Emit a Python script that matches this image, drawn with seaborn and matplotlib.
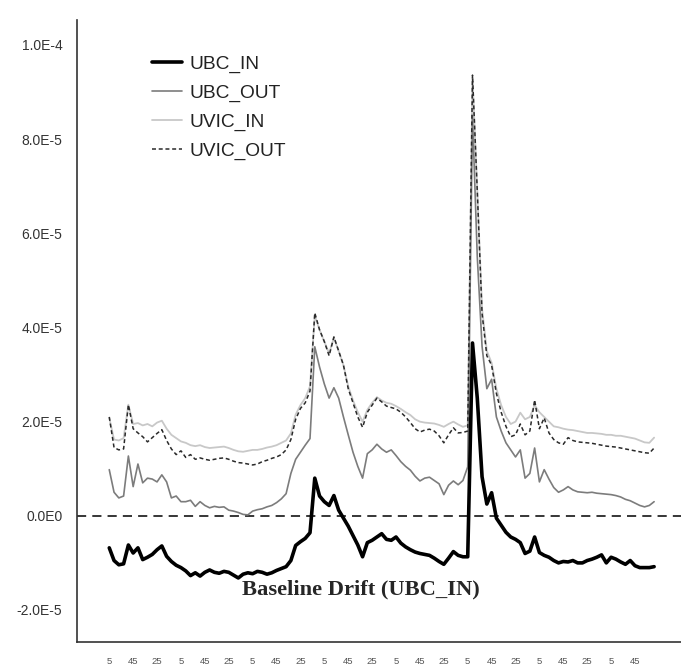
import matplotlib
matplotlib.use("Agg")
import matplotlib.pyplot as plt
import numpy as np
import pandas as pd
import seaborn as sns

# ---------------- data (values in units of 1E-5) ----------------
SCALE = 1e-5
TIME_MIN = list(range(0, 913, 8))  # sample times in minutes (115 samples)

UBC_IN = [-0.68, -0.95, -1.04, -1.02, -0.62, -0.79, -0.68, -0.93, -0.88, -0.82,
          -0.72, -0.64, -0.86, -0.97, -1.05, -1.10, -1.17, -1.27, -1.21, -1.28,
          -1.20, -1.15, -1.20, -1.22, -1.18, -1.20, -1.26, -1.32, -1.24, -1.21,
          -1.23, -1.18, -1.20, -1.24, -1.21, -1.16, -1.12, -1.08, -0.95, -0.63,
          -0.55, -0.48, -0.36, 0.80, 0.42, 0.30, 0.22, 0.43, 0.12, -0.05,
          -0.22, -0.42, -0.62, -0.87, -0.57, -0.52, -0.45, -0.38, -0.50, -0.52,
          -0.45, -0.58, -0.66, -0.72, -0.77, -0.80, -0.82, -0.84, -0.90, -0.97,
          -1.03, -0.90, -0.76, -0.84, -0.87, -0.87, 3.67, 2.50, 0.83, 0.25,
          0.49, -0.05, -0.20, -0.35, -0.45, -0.50, -0.57, -0.80, -0.75, -0.45,
          -0.78, -0.84, -0.88, -0.95, -1.00, -0.97, -0.98, -0.95, -1.00, -1.00,
          -0.95, -0.92, -0.88, -0.83, -1.00, -0.88, -0.92, -0.98, -1.03, -0.95,
          -1.06, -1.10, -1.10, -1.10, -1.08]

UBC_OUT = [0.98, 0.50, 0.38, 0.42, 1.27, 0.62, 1.10, 0.70, 0.80, 0.78,
           0.72, 0.87, 0.72, 0.38, 0.42, 0.30, 0.30, 0.33, 0.20, 0.30,
           0.22, 0.17, 0.20, 0.18, 0.19, 0.12, 0.10, 0.07, 0.03, 0.02,
           0.10, 0.13, 0.15, 0.19, 0.22, 0.28, 0.36, 0.47, 0.90, 1.20,
           1.35, 1.50, 1.64, 3.59, 3.16, 2.80, 2.50, 2.72, 2.50, 2.10,
           1.72, 1.35, 1.05, 0.80, 1.32, 1.40, 1.52, 1.42, 1.35, 1.40,
           1.28, 1.15, 1.05, 0.97, 0.84, 0.74, 0.80, 0.82, 0.75, 0.68,
           0.45, 0.65, 0.74, 0.66, 0.75, 1.04, 8.50, 5.50, 3.60, 2.70,
           2.90, 2.10, 1.80, 1.55, 1.40, 1.25, 1.40, 0.80, 0.90, 1.44,
           0.72, 0.98, 0.78, 0.60, 0.50, 0.55, 0.62, 0.55, 0.51, 0.50,
           0.49, 0.50, 0.48, 0.47, 0.46, 0.45, 0.43, 0.40, 0.35, 0.32,
           0.27, 0.22, 0.19, 0.22, 0.30]

UVIC_IN = [2.08, 1.62, 1.60, 1.65, 2.36, 1.95, 1.97, 1.92, 1.95, 1.90,
           1.98, 2.02, 1.85, 1.72, 1.65, 1.58, 1.55, 1.50, 1.48, 1.50,
           1.46, 1.44, 1.45, 1.46, 1.47, 1.44, 1.40, 1.37, 1.36, 1.38,
           1.40, 1.40, 1.42, 1.45, 1.47, 1.50, 1.55, 1.60, 1.75, 2.15,
           2.35, 2.50, 2.75, 4.25, 3.95, 3.70, 3.45, 3.78, 3.50, 3.20,
           2.75, 2.45, 2.20, 2.00, 2.25, 2.40, 2.52, 2.45, 2.40, 2.38,
           2.33, 2.27, 2.20, 2.14, 2.05, 2.00, 1.98, 1.97, 1.96, 1.93,
           1.89, 1.95, 2.00, 1.94, 1.89, 1.92, 9.30, 6.90, 4.40, 3.50,
           3.25, 2.70, 2.35, 2.10, 1.95, 2.00, 2.19, 2.05, 2.10, 2.35,
           2.20, 2.10, 2.00, 1.90, 1.88, 1.85, 1.83, 1.82, 1.80, 1.78,
           1.76, 1.76, 1.75, 1.74, 1.72, 1.72, 1.70, 1.70, 1.68, 1.66,
           1.64, 1.60, 1.56, 1.55, 1.66]

UVIC_OUT = [2.10, 1.45, 1.40, 1.42, 2.36, 1.85, 1.76, 1.68, 1.57, 1.66,
            1.75, 1.83, 1.60, 1.42, 1.30, 1.38, 1.24, 1.30, 1.20, 1.23,
            1.20, 1.18, 1.20, 1.22, 1.23, 1.20, 1.16, 1.13, 1.12, 1.10,
            1.08, 1.10, 1.15, 1.18, 1.22, 1.25, 1.30, 1.40, 1.62, 2.05,
            2.28, 2.40, 2.65, 4.31, 3.95, 3.70, 3.40, 3.80, 3.50, 3.20,
            2.70, 2.40, 2.10, 1.88, 2.20, 2.35, 2.50, 2.42, 2.33, 2.30,
            2.27, 2.20, 2.10, 1.98, 1.85, 1.78, 1.82, 1.84, 1.80, 1.70,
            1.55, 1.72, 1.87, 1.76, 1.77, 1.80, 9.36, 6.90, 4.30, 3.40,
            3.20, 2.60, 2.20, 1.90, 1.68, 1.72, 1.95, 1.72, 1.80, 2.46,
            1.85, 2.08, 1.76, 1.62, 1.55, 1.52, 1.66, 1.60, 1.57, 1.56,
            1.55, 1.54, 1.52, 1.50, 1.48, 1.47, 1.46, 1.44, 1.42, 1.40,
            1.38, 1.36, 1.34, 1.33, 1.44]

XTICK_POS = list(range(0, 881, 40))
XTICK_LABELS = ["5", "45", "25", "5", "45", "25", "5", "45", "25", "5", "45", "25",
                "5", "45", "25", "5", "45", "25", "5", "45", "25", "5", "45"]
YTICK_POS = [-2e-5, 0.0, 2e-5, 4e-5, 6e-5, 8e-5, 1e-4]
YTICK_LABELS = ["-2.0E-5", "0.0E0", "2.0E-5", "4.0E-5", "6.0E-5", "8.0E-5", "1.0E-4"]

SERIES = ["UBC_IN", "UBC_OUT", "UVIC_IN", "UVIC_OUT"]
ANNOTATION = "Baseline Drift (UBC_IN)"

# ---------------- figure ----------------
sns.set_style("white")
plt.rcParams["font.family"] = ["Liberation Sans", "DejaVu Sans"]

df = pd.DataFrame({
    "time": TIME_MIN,
    "UBC_IN": np.array(UBC_IN) * SCALE,
    "UBC_OUT": np.array(UBC_OUT) * SCALE,
    "UVIC_IN": np.array(UVIC_IN) * SCALE,
    "UVIC_OUT": np.array(UVIC_OUT) * SCALE,
})

W, H = 681, 670
fig = plt.figure(figsize=(W / 100, H / 100), dpi=100)
ax = fig.add_axes([77 / W, 28 / H, (W - 77) / W, (642 - 20) / H])

styles = {
    "UVIC_IN": dict(color="#c8c8c8", linewidth=1.3, linestyle="-"),
    "UBC_OUT": dict(color="#7c7c7c", linewidth=1.2, linestyle="-"),
    "UVIC_OUT": dict(color="#2a2a2a", linewidth=1.1, linestyle=(0, (2.6, 1.8))),
    "UBC_IN": dict(color="#000000", linewidth=2.6, linestyle="-"),
}
for name in ["UVIC_IN", "UBC_OUT", "UVIC_OUT", "UBC_IN"]:
    sns.lineplot(data=df, x="time", y=name, ax=ax, label=name, **styles[name])

ax.axhline(0, color="black", linewidth=1.1, linestyle=(0, (6, 4)), zorder=1)

ax.set_xlim(-54, 957)
ax.set_ylim(-2.68e-5, 1.053e-4)
ax.set_xticks(XTICK_POS)
ax.set_xticklabels(XTICK_LABELS, fontsize=6.8, color="#555555")
ax.set_yticks(YTICK_POS)
ax.set_yticklabels(YTICK_LABELS, fontsize=10, color="#333333")
ax.tick_params(axis="x", length=9, width=1.2, direction="out", pad=2, colors="#333333",
               labelcolor="#555555")
ax.tick_params(axis="y", length=9, width=1.2, direction="out", pad=1.5, colors="#333333",
               labelcolor="#333333")
ax.set_xlabel("")
ax.set_ylabel("")
sns.despine(ax=ax)
for s in ["left", "bottom"]:
    ax.spines[s].set_linewidth(1.2)
    ax.spines[s].set_color("#333333")

handles, labels = ax.get_legend_handles_labels()
lookup = dict(zip(labels, handles))
leg = ax.legend([lookup[s] for s in SERIES], SERIES, loc="upper left",
                bbox_to_anchor=(152 / W, 1 - 55 / H), bbox_transform=fig.transFigure,
                frameon=False, fontsize=13.8, handlelength=1.55, handletextpad=0.42,
                labelspacing=0.6, borderpad=0, borderaxespad=0)
for t in leg.get_texts():
    t.set_color("#222222")

fig.text(361 / W, 1 - 589 / H, ANNOTATION, ha="center", va="center",
         fontfamily=["Liberation Serif", "DejaVu Serif"], fontweight="bold", fontsize=16.2)

fig.savefig("out.png", dpi=100)
